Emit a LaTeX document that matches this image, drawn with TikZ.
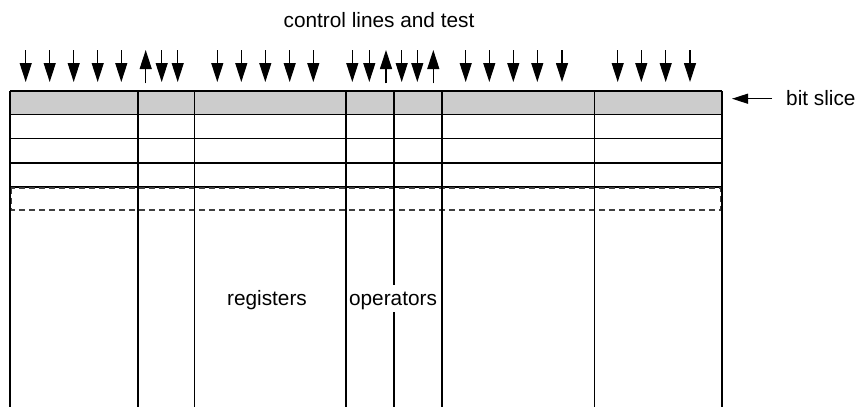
\documentclass[tikz,border=0pt]{standalone}
\usepackage{fontspec}
\setmainfont{Liberation Sans}
\usetikzlibrary{arrows.meta}
\begin{document}
\begin{tikzpicture}[x=1bp,y=-1bp,
  gridline/.style={line width=1.4bp,black},
  dashrow/.style={line width=1.1bp,black!75,dash pattern=on 6bp off 4bp},
  ctlarrow/.style={line width=1.2bp,-{Triangle[length=19bp,width=12bp]}},
  slicearrow/.style={line width=1.2bp,-{Triangle[length=16bp,width=10bp]}},
  label/.style={inner sep=0pt,font=\fontsize{20.8bp}{25bp}\selectfont}]
  \useasboundingbox (0,0) rectangle (860,407);

  % top row of the slice, shaded
  \fill[gray!40] (10,91) rectangle (722,114.3);

  % horizontal row separators
  \foreach \y in {91,114.3,138.7,163,187}
    \draw[gridline] (10,\y) -- (722,\y);

  % dashed row standing for the remaining bits
  \draw[dashrow] (11,188) rectangle (721,210);

  % column separators
  \foreach \x in {10,138,194.3,346,442,594.3,722}
    \draw[gridline] (\x,91) -- (\x,407);
  \draw[gridline] (394,91) -- (394,285);
  \draw[gridline] (394,312) -- (394,407);

  % control lines going into the columns
  \foreach \x [count=\i] in {25.7,49.7,73.7,97.7,121.3,161.7,177.7,217.3,241.3,265.3,289.7,313.3,352.3,369.3,401.7,417.3,465.7,489.3,513.3,537.3,562,617.7,641.3,665.7,690} {
    \coordinate (dn\i) at (\x,50);
    \coordinate (dt\i) at (\x,82);
    \draw[ctlarrow] (dn\i) -- (dt\i);
  }
  % test lines coming out of the columns
  \foreach \x [count=\i] in {145.7,386,433.3} {
    \coordinate (ub\i) at (\x,83.3);
    \coordinate (ut\i) at (\x,50);
    \draw[ctlarrow] (ub\i) -- (ut\i);
  }

  % labels
  \node[label,anchor=base] (ctl) at (379,27.3) {control lines and test};
  \node[label,anchor=base] (reg) at (267,305.7) {registers};
  \node[label,anchor=base] (ops) at (393,305.7) {operators};
  \node[label,anchor=base west] (slice) at (786,105) {bit slice};

  \coordinate (slicetail) at (772,98.7);
  \coordinate (slicehead) at (732,98.7);
  \draw[slicearrow] (slicetail) -- (slicehead);
\end{tikzpicture}
\end{document}
